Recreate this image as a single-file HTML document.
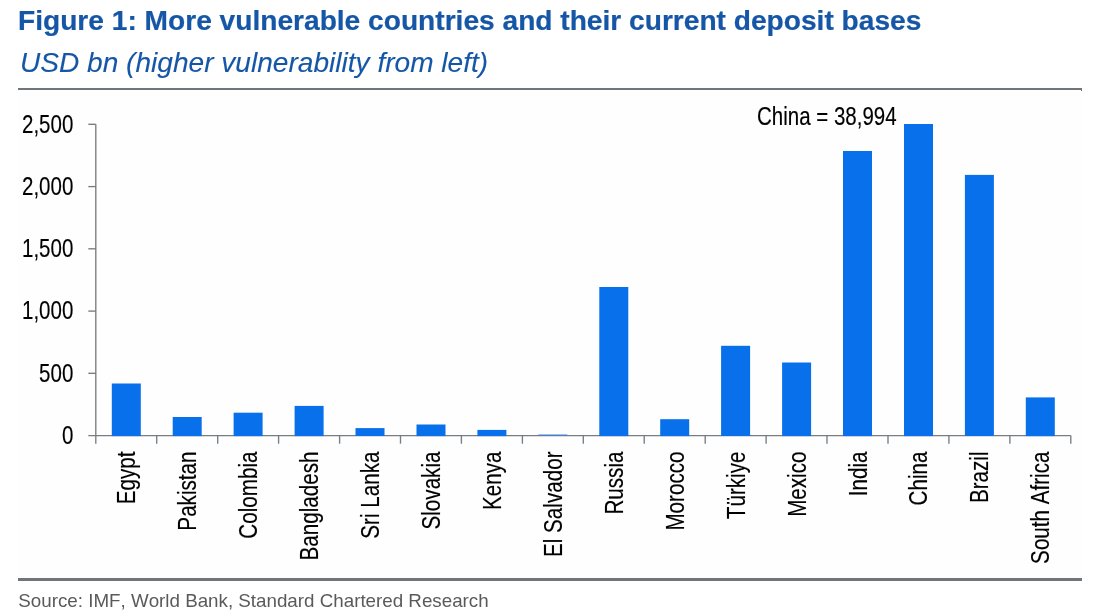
<!DOCTYPE html>
<html lang="en">
<head>
<meta charset="utf-8">
<title>Figure 1: More vulnerable countries and their current deposit bases</title>
<style>
html,body{margin:0;padding:0;background:#fff;}
body{font-kerning:none;width:1101px;height:613px;position:relative;overflow:hidden;font-family:"Liberation Sans",Arial,sans-serif;}
.title{position:absolute;left:18px;top:4.5px;margin:0;font-size:28.13px;line-height:32px;font-weight:bold;color:#1556a6;white-space:nowrap;-webkit-text-stroke:0.2px #1556a6;}
.sub{position:absolute;left:20px;top:46.7px;margin:0;font-size:28.09px;line-height:32px;font-style:italic;font-weight:normal;color:#1556a6;white-space:nowrap;-webkit-text-stroke:0.1px #1556a6;}
.rule{position:absolute;left:18px;width:1064px;height:2px;background:#70757a;}
.rule.top:after{content:"";position:absolute;right:0;top:2px;width:2px;height:1px;background:#70757a;}
.plot{position:absolute;left:18px;top:90px;width:1063px;height:488px;background:#fefefe;}
.src{position:absolute;left:18.3px;top:590px;margin:0;font-size:18.78px;line-height:22px;color:#5a5a5a;white-space:nowrap;font-kerning:none;}
svg{position:absolute;left:0;top:0;}
svg text{font-kerning:none;font-family:"Liberation Sans",Arial,sans-serif;font-size:25px;fill:#000;stroke:#000;stroke-width:0.15px;stroke-linejoin:round;}
</style>
</head>
<body>
<h1 class="title">Figure 1: More vulnerable countries and their current deposit bases</h1>
<p class="sub">USD bn (higher vulnerability from left)</p>
<div class="rule top" style="top:88px"></div>
<div class="plot"></div>
<svg width="1101" height="613" viewBox="0 0 1101 613">

<g stroke="#787d81" stroke-width="1.35" fill="none">
<path d="M95.8 124.3 V435.6"/>
<path d="M88.3 435.6 H1070.8"/>
<path d="M88.3 124.3 H95.8"/>
<path d="M88.3 186.6 H95.8"/>
<path d="M88.3 248.8 H95.8"/>
<path d="M88.3 311.1 H95.8"/>
<path d="M88.3 373.3 H95.8"/>
<path d="M95.8 435.6 V443.7"/>
<path d="M156.7 435.6 V443.7"/>
<path d="M217.7 435.6 V443.7"/>
<path d="M278.6 435.6 V443.7"/>
<path d="M339.6 435.6 V443.7"/>
<path d="M400.5 435.6 V443.7"/>
<path d="M461.4 435.6 V443.7"/>
<path d="M522.4 435.6 V443.7"/>
<path d="M583.3 435.6 V443.7"/>
<path d="M644.2 435.6 V443.7"/>
<path d="M705.2 435.6 V443.7"/>
<path d="M766.1 435.6 V443.7"/>
<path d="M827.0 435.6 V443.7"/>
<path d="M888.0 435.6 V443.7"/>
<path d="M948.9 435.6 V443.7"/>
<path d="M1009.9 435.6 V443.7"/>
<path d="M1070.8 435.6 V443.7"/>
</g>
<g fill="#0870ea">
<rect x="111.8" y="383.5" width="29.0" height="52.6"/>
<rect x="172.7" y="417.0" width="29.0" height="19.1"/>
<rect x="233.6" y="412.7" width="29.0" height="23.4"/>
<rect x="294.6" y="405.9" width="29.0" height="30.2"/>
<rect x="355.5" y="428.1" width="29.0" height="7.9"/>
<rect x="416.5" y="424.5" width="29.0" height="11.6"/>
<rect x="477.4" y="429.9" width="29.0" height="6.2"/>
<rect x="538.3" y="434.5" width="29.0" height="1.5" fill="#4c7fc4"/>
<rect x="599.3" y="287.0" width="29.0" height="149.1"/>
<rect x="660.2" y="419.2" width="29.0" height="16.9"/>
<rect x="721.1" y="345.8" width="29.0" height="90.2"/>
<rect x="782.1" y="362.5" width="29.0" height="73.6"/>
<rect x="843.0" y="151.0" width="29.0" height="285.1"/>
<rect x="904.0" y="124.0" width="29.0" height="312.1"/>
<rect x="964.9" y="174.9" width="29.0" height="261.1"/>
<rect x="1025.8" y="397.4" width="29.0" height="38.7"/>
</g>
<text transform="translate(73.3 132.6) scale(0.82 1)" text-anchor="end">2,500</text>
<text transform="translate(73.3 194.9) scale(0.82 1)" text-anchor="end">2,000</text>
<text transform="translate(73.3 257.1) scale(0.82 1)" text-anchor="end">1,500</text>
<text transform="translate(73.3 319.4) scale(0.82 1)" text-anchor="end">1,000</text>
<text transform="translate(73.3 381.6) scale(0.82 1)" text-anchor="end">500</text>
<text transform="translate(73.3 443.9) scale(0.82 1)" text-anchor="end">0</text>
<text transform="translate(757 125.2) scale(0.82 1)">China = 38,994</text>
<text transform="translate(135.27 451.50) rotate(-90) scale(0.8260 1)" text-anchor="end">Egypt</text>
<text transform="translate(196.21 451.50) rotate(-90) scale(0.8260 1)" text-anchor="end">Pakistan</text>
<text transform="translate(257.14 451.50) rotate(-90) scale(0.8260 1)" text-anchor="end">Colombia</text>
<text transform="translate(318.08 451.50) rotate(-90) scale(0.8260 1)" text-anchor="end">Bangladesh</text>
<text transform="translate(379.02 451.50) rotate(-90) scale(0.8260 1)" text-anchor="end">Sri Lanka</text>
<text transform="translate(439.96 451.50) rotate(-90) scale(0.8260 1)" text-anchor="end">Slovakia</text>
<text transform="translate(500.89 451.50) rotate(-90) scale(0.8260 1)" text-anchor="end">Kenya</text>
<text transform="translate(561.83 451.50) rotate(-90) scale(0.8260 1)" text-anchor="end">El Salvador</text>
<text transform="translate(622.77 451.50) rotate(-90) scale(0.8260 1)" text-anchor="end">Russia</text>
<text transform="translate(683.71 451.50) rotate(-90) scale(0.8260 1)" text-anchor="end">Morocco</text>
<text transform="translate(744.64 451.50) rotate(-90) scale(0.8260 1)" text-anchor="end">Türkiye</text>
<text transform="translate(805.58 451.50) rotate(-90) scale(0.8260 1)" text-anchor="end">Mexico</text>
<text transform="translate(866.52 451.50) rotate(-90) scale(0.8260 1)" text-anchor="end">India</text>
<text transform="translate(927.46 451.50) rotate(-90) scale(0.8260 1)" text-anchor="end">China</text>
<text transform="translate(988.39 451.50) rotate(-90) scale(0.8260 1)" text-anchor="end">Brazil</text>
<text transform="translate(1049.33 451.50) rotate(-90) scale(0.8260 1)" text-anchor="end">South Africa</text>
</svg>
<div class="rule" style="top:578px;height:3px"></div>
<p class="src">Source: IMF, World Bank, Standard Chartered Research</p>
</body>
</html>
